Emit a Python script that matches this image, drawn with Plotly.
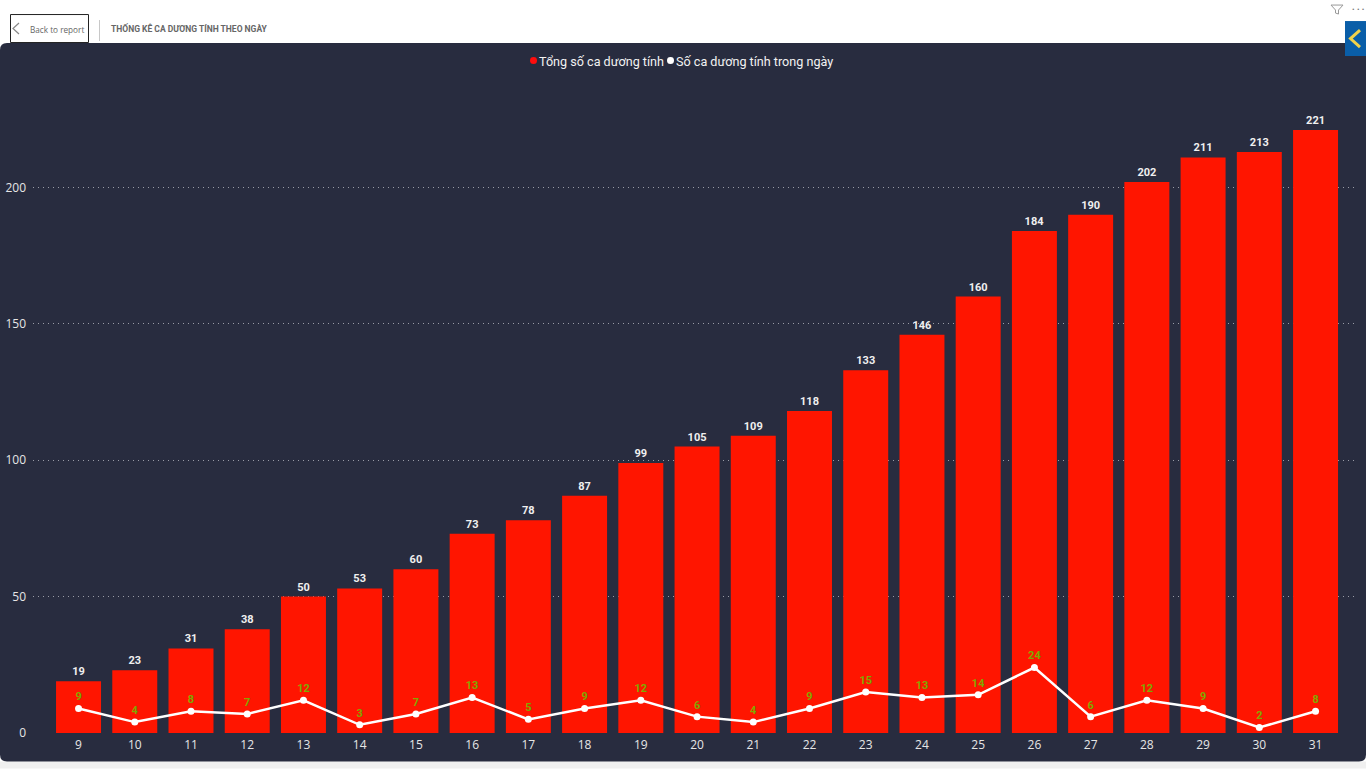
import plotly.graph_objects as go

days = [str(d) for d in range(9, 32)]
total_cases = [19, 23, 31, 38, 50, 53, 60, 73, 78, 87, 99, 105, 109, 118, 133, 146, 160, 184, 190, 202, 211, 213, 221]
daily_cases = [9, 4, 8, 7, 12, 3, 7, 13, 5, 9, 12, 6, 4, 9, 15, 13, 14, 24, 6, 12, 9, 2, 8]
y_ticks = [0, 50, 100, 150, 200]

W, H = 1366, 769
# plot area in page pixels
L, R, T, B = 33, 1358, 70, 734.5
Y_SCALE = 2.73  # px per case


def px(x):
    return (x - L) / (R - L)


def py(y):
    return (B - y) / (B - T)


bars = go.Bar(
    x=days,
    y=total_cases,
    text=total_cases,
    textposition="outside",
    cliponaxis=False,
    textfont=dict(color="#f0f0f0", size=11, family="Roboto", weight=700),
    marker=dict(color="#ff1500", line=dict(width=0)),
    showlegend=False,
)
line = go.Scatter(
    x=days,
    y=daily_cases,
    mode="lines+markers+text",
    text=daily_cases,
    textposition="top center",
    textfont=dict(color="#7fa800", size=11, family="Roboto", weight=700),
    line=dict(color="#ffffff", width=2.5),
    marker=dict(color="#ffffff", size=7),
    cliponaxis=False,
    showlegend=False,
)


def rounded_panel(x0, y0, x1, y1, r):
    x0, x1 = px(x0), px(x1)
    y0, y1 = py(y0), py(y1)
    rx = r / (R - L)
    ry = r / (B - T)
    return (
        f"M {x0} {y0 - ry} Q {x0} {y0} {x0 + rx} {y0} L {x1 - rx} {y0} Q {x1} {y0} {x1} {y0 - ry} "
        f"L {x1} {y1 + ry} Q {x1} {y1} {x1 - rx} {y1} L {x0 + rx} {y1} Q {x0} {y1} {x0} {y1 + ry} Z"
    )


def page_rect(x0, y0, x1, y1, fill, line_color=None, layer="below"):
    return dict(
        type="rect", xref="paper", yref="paper", layer=layer,
        x0=px(x0), x1=px(x1), y0=py(y0), y1=py(y1),
        fillcolor=fill, line=dict(color=line_color, width=1) if line_color else dict(width=0),
    )


def page_line(points, color, width, layer="above"):
    path = "M " + " L ".join(f"{px(x)} {py(y)}" for x, y in points)
    return dict(type="path", xref="paper", yref="paper", layer=layer, path=path,
                line=dict(color=color, width=width))


def page_dot(x, y, r, color):
    return dict(type="circle", xref="paper", yref="paper", layer="above",
                x0=px(x - r), x1=px(x + r), y0=py(y + r), y1=py(y - r),
                fillcolor=color, line=dict(width=0))


def label(x, y, text, size, color, family="Open Sans"):
    return dict(
        xref="paper", yref="paper", x=px(x), y=py(y), text=text, showarrow=False,
        xanchor="left", yanchor="middle", borderpad=0,
        font=dict(size=size, color=color, family=family),
    )


shapes = [
    page_rect(0, 762, W, H, "#f0f0f0"),
    dict(type="path", xref="paper", yref="paper", layer="below",
         path=rounded_panel(0, 43, W, 762, 7), fillcolor="#282c3f", line=dict(width=0)),
    page_rect(10.5, 14.5, 88.5, 42.5, "#ffffff", "#222222"),
    page_line([(19, 23), (13, 28.5), (19, 34)], "#888888", 1.2),
    page_line([(99.5, 20), (99.5, 41)], "#c8c8c8", 1),
    page_rect(1345, 21, W, 56, "#0a5ea8", layer="above"),
    page_line([(1360, 30), (1350.5, 38.5), (1360, 47)], "#f2d24b", 3),
    page_line([(1331, 5), (1343, 5), (1338.5, 10), (1338.5, 14), (1335.5, 13), (1335.5, 10), (1331, 5)], "#999999", 1),
    page_dot(533.5, 60.5, 3.5, "#ff0d0d"),
    page_dot(670.5, 60.5, 3.5, "#ffffff"),
]

annotations = [
    label(29, 29.5, "Back to report", 8.2, "#666666"),
    label(109.5, 28.5, "<b>THỐNG KÊ CA DƯƠNG TÍNH THEO NGÀY</b>", 8.5, "#666666", family="Roboto"),
    label(1351, 8, "<b>· · ·</b>", 9, "#777777"),
    label(538, 61, "Tổng số ca dương tính", 12.6, "#f2f2f2", family="Roboto"),
    label(675, 61, "Số ca dương tính trong ngày", 12.6, "#f2f2f2", family="Roboto"),
]

fig = go.Figure(data=[bars, line])
fig.update_layout(
    width=W,
    height=H,
    autosize=False,
    margin=dict(l=L, r=W - R, t=T, b=H - B, pad=0),
    paper_bgcolor="#ffffff",
    plot_bgcolor="rgba(0,0,0,0)",
    bargap=0.2,
    shapes=shapes,
    annotations=annotations,
    font=dict(family="Open Sans", color="#e6e6e6"),
    xaxis=dict(
        type="category",
        automargin=False,
        range=[-0.81, 22.755],
        showgrid=False,
        zeroline=False,
        showline=False,
        ticks="",
        ticklabelstandoff=2,
        tickfont=dict(size=12, color="#e6e6e6"),
    ),
    yaxis=dict(
        automargin=False,
        range=[-1 / Y_SCALE, (B - 1 - T) / Y_SCALE],
        tickvals=y_ticks,
        showgrid=True,
        gridcolor="#9a9ca6",
        griddash="1px,4px",
        gridwidth=1,
        zeroline=False,
        ticks="",
        ticklabelstandoff=6,
        tickfont=dict(size=12, color="#e6e6e6"),
    ),
)

fig.write_html(
    "out.html",
    config=dict(displayModeBar=False),
    post_script="document.body.style.margin='0';document.body.style.overflow='hidden';",
)
